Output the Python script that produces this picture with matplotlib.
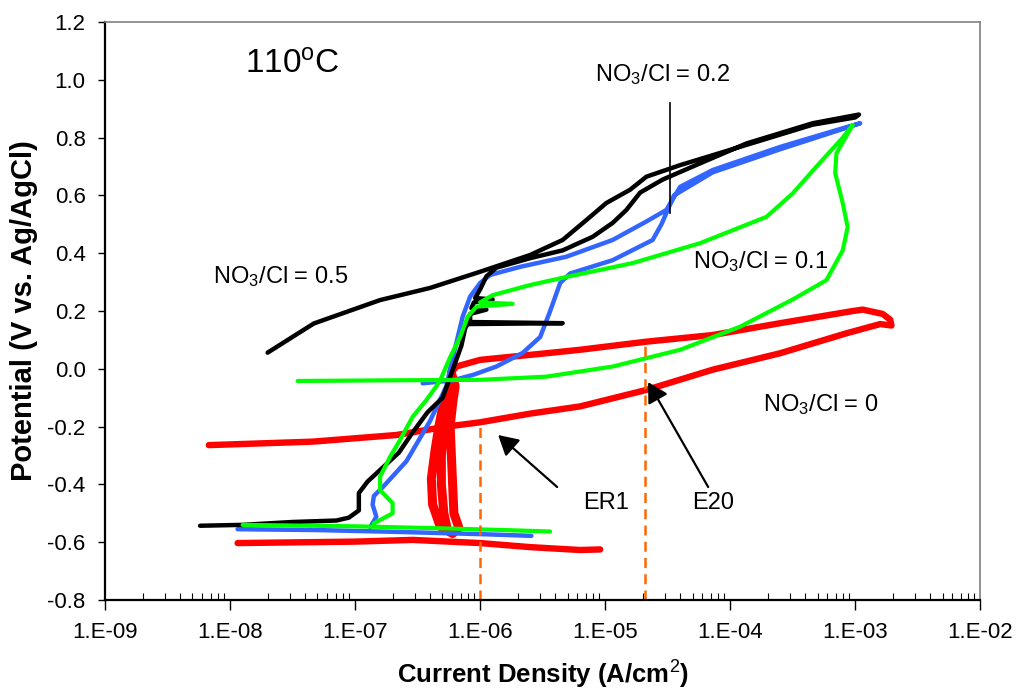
import numpy as np
import matplotlib
matplotlib.use('Agg')
import matplotlib.pyplot as plt
from matplotlib.ticker import FixedLocator, LogLocator, FuncFormatter, NullFormatter

plt.rcParams['font.family'] = ['Liberation Sans', 'DejaVu Sans']
plt.rcParams['mathtext.fontset'] = 'custom'
plt.rcParams['mathtext.rm'] = 'Liberation Sans'
plt.rcParams['mathtext.it'] = 'Liberation Sans:italic'
plt.rcParams['mathtext.bf'] = 'Liberation Sans:bold'

# log10 of current density (A/cm2) and potential (V vs Ag/AgCl)
# NaN breaks a trace into separate pieces
red_logi = [-8.17, -7.34, -6.67, -6.27, -6.0, -5.6, -5.2, -4.67, -4.14, -3.6, -3.07, -2.8, -2.71,
            -2.72, -2.78, -2.94, -3.02, -3.6, -4.14, -4.67, -5.2, -5.47, -6.0, -6.19, -6.23, np.nan,
            -7.94, -7.0, -6.54, -6.0, -5.6, -5.2, -5.04]
red_e = [-0.264, -0.252, -0.229, -0.2, -0.185, -0.155, -0.13, -0.073, -0.003, 0.054, 0.123, 0.155, 0.15,
         0.17, 0.19, 0.205, 0.2, 0.158, 0.117, 0.094, 0.066, 0.054, 0.031, 0.008, -0.014, np.nan,
         -0.603, -0.598, -0.592, -0.603, -0.617, -0.627, -0.625]

# thick red band near 5e-7 A/cm2 (traced along its right edge, left edge and middle)
red_band_logi = [-6.23, -6.2, -6.22, -6.24, -6.23, -6.22, -6.21, -6.17, -6.22, -6.32, -6.38, -6.39,
                 -6.36, -6.33, -6.29, -6.24, -6.27, -6.29, -6.31, -6.31, -6.29, -6.26]
red_band_e = [-0.014, -0.06, -0.12, -0.2, -0.3, -0.4, -0.5, -0.55, -0.57, -0.545, -0.47, -0.38,
              -0.28, -0.2, -0.11, -0.06, -0.12, -0.2, -0.3, -0.4, -0.5, -0.56]

blue_logi = [-7.94, -7.3, -6.6, -6.0, -5.59, np.nan,
             -6.88, -6.83, -6.86, -6.85, -6.78, -6.59, -6.4, -6.27, -6.24, -6.19, -6.14, -6.08, -6.0,
             -5.92, -5.68, -5.31, -4.94, -4.67, -4.51, -4.4, -4.14, -3.6, -3.12, -2.96,
             -3.1, -3.6, -4.14, -4.45, -4.55, -4.62, -4.94, -5.28, -5.36, -5.44, -5.52, -5.66,
             -5.87, -6.05, -6.22, -6.46]
blue_e = [-0.555, -0.558, -0.565, -0.572, -0.578, np.nan,
          -0.548, -0.512, -0.47, -0.44, -0.41, -0.32, -0.18, -0.06, 0.0, 0.09, 0.18, 0.25, 0.297,
          0.325, 0.353, 0.388, 0.446, 0.51, 0.55, 0.63, 0.688, 0.768, 0.83, 0.85,
          0.83, 0.76, 0.68, 0.6, 0.5, 0.446, 0.376, 0.33, 0.297, 0.2, 0.11, 0.055,
          0.008, -0.02, -0.04, -0.05]

black_logi = [-8.24, -7.9, -7.5, -7.15, -7.05, -6.97, -6.97, -6.9, -6.8, -6.65, -6.54, -6.42, -6.3,
              -6.25, -6.2, -6.15, -6.12, -6.1, -5.34, -6.08, -6.08, -5.95, -6.07, -6.05, -5.9,
              -6.04, -6.0, -5.95, -5.87, -5.6, -5.34, -5.1, -4.94, -4.83, -4.72, -4.54, -4.3,
              -3.87, -3.34, -2.97,
              -3.0, -3.34, -3.87, -4.4, -4.67, -4.8, -4.99, -5.15, -5.34, -5.6, -6.0, -6.4,
              -6.8, -7.33, -7.7]
black_e = [-0.543, -0.54, -0.53, -0.525, -0.515, -0.49, -0.43, -0.39, -0.35, -0.29, -0.22, -0.15, -0.1,
           -0.04, 0.02, 0.08, 0.14, 0.155, 0.158, 0.162, 0.19, 0.205, 0.21, 0.23, 0.24,
           0.245, 0.275, 0.32, 0.35, 0.383, 0.41, 0.457, 0.505, 0.55, 0.61, 0.655, 0.7,
           0.78, 0.85, 0.88,
           0.87, 0.845, 0.775, 0.705, 0.665, 0.62, 0.574, 0.515, 0.446, 0.394, 0.336, 0.28,
           0.238, 0.157, 0.056]

green_logi = [-7.9, -7.0, -6.3, -5.8, -5.44, np.nan,
              -6.85, -6.8, -6.7, -6.7, -6.8, -6.8, -6.72, -6.64, -6.54, -6.43, -6.35, -6.32, -6.24,
              -6.16, -6.1, -6.03, -5.74, -6.0, -5.9, -5.6, -5.31, -4.78, -4.24, -3.71, -3.5, -3.31,
              -3.1, -3.02,
              -3.15, -3.16, -3.1, -3.06, -3.1, -3.23, -3.5, -3.92, -4.4, -4.94, -5.47, -6.0, -6.8,
              -7.46]
green_e = [-0.54, -0.545, -0.552, -0.558, -0.563, np.nan,
           -0.535, -0.523, -0.5, -0.465, -0.42, -0.373, -0.304, -0.246, -0.166, -0.108, -0.06, -0.04, 0.04,
           0.11, 0.18, 0.215, 0.225, 0.23, 0.255, 0.29, 0.318, 0.366, 0.435, 0.526, 0.607, 0.7,
           0.8, 0.844,
           0.746, 0.677, 0.574, 0.49, 0.41, 0.307, 0.24, 0.146, 0.066, 0.008, -0.027, -0.038, -0.04,
           -0.042]

# marker lines for ER1 and E20
ref_current = [1e-6, 2.1e-5]
ref_top = [-0.19, 0.09]

fig = plt.figure(figsize=(10.2, 6.95), dpi=100)
ax = fig.add_axes([0.103, 0.1367, 0.858, 0.8315])

traces = [(red_logi, red_e, '#FF0000', 4.6),
          (red_band_logi, red_band_e, '#FF0000', 6.5),
          (blue_logi, blue_e, '#3366FF', 3.2),
          (black_logi, black_e, '#000000', 3.2),
          (green_logi, green_e, '#00FF00', 3.0)]
for logi, e, col, lw in traces:
    ax.plot(10 ** np.array(logi), e, color=col, lw=lw,
            solid_capstyle='round', solid_joinstyle='round')

for xc, yt in zip(ref_current, ref_top):
    ax.plot([xc, xc], [-0.8, yt], color='#FF6600', lw=1.8, ls=(0, (4, 2.5)))

ax.set_xscale('log')
ax.set_xlim(1e-9, 1e-2)
ax.set_ylim(-0.8, 1.2)
ax.xaxis.set_major_locator(LogLocator(base=10, numticks=20))
ax.xaxis.set_minor_locator(LogLocator(base=10, subs=np.arange(2, 10), numticks=100))
ax.xaxis.set_minor_formatter(NullFormatter())
ax.xaxis.set_major_formatter(FuncFormatter(lambda v, p: '1.E%+03d' % int(round(np.log10(v)))))
ax.yaxis.set_major_locator(FixedLocator(np.arange(-0.8, 1.21, 0.2)))
ax.yaxis.set_major_formatter(FuncFormatter(lambda v, p: '%.1f' % (round(v, 1) + 0.0)))

ax.tick_params(axis='x', which='major', direction='out', length=7, width=1, pad=9, labelsize=16)
ax.tick_params(axis='x', which='minor', direction='in', length=5, width=0.8)
ax.tick_params(axis='y', which='major', direction='out', length=5, width=1, pad=9, labelsize=16)

for s in ['left', 'bottom']:
    ax.spines[s].set_linewidth(1.6)
for s in ['top', 'right']:
    ax.spines[s].set_color('#808080')
    ax.spines[s].set_linewidth(1.2)

ax.set_xlabel('Current Density (A/cm$^2$)', fontsize=18.5, fontweight='bold', labelpad=11)
ax.set_ylabel('Potential (V vs. Ag/AgCl)', fontsize=21, fontweight='bold', labelpad=7)

ax.text(10 ** -7.88, 1.05, '110$^{\\rm o}$C', fontsize=24, ha='left', va='center')
ax.text(10 ** -8.14, 0.318, 'NO$_3$/Cl = 0.5', fontsize=17, ha='left', va='center')
ax.text(10 ** -5.08, 1.02, 'NO$_3$/Cl = 0.2', fontsize=17, ha='left', va='center')
ax.text(10 ** -4.3, 0.373, 'NO$_3$/Cl = 0.1', fontsize=17, ha='left', va='center')
ax.text(10 ** -3.74, -0.125, 'NO$_3$/Cl = 0', fontsize=17, ha='left', va='center')
ax.text(10 ** -4.99, -0.464, 'ER1', fontsize=17, ha='center', va='center')
ax.text(10 ** -4.14, -0.464, 'E20', fontsize=17, ha='center', va='center')

ax.plot([10 ** -4.48, 10 ** -4.48], [0.92, 0.539], color='k', lw=1.2)
arrow = dict(arrowstyle='-|>,head_length=0.8,head_width=0.45', color='k', lw=1.6,
             mutation_scale=15, shrinkA=0, shrinkB=0)
ax.annotate('', xy=(10 ** -5.856, -0.229), xytext=(10 ** -5.384, -0.409), arrowprops=arrow)
ax.annotate('', xy=(10 ** -4.656, -0.046), xytext=(10 ** -4.176, -0.409), arrowprops=arrow)

fig.savefig('out.png', dpi=100)
